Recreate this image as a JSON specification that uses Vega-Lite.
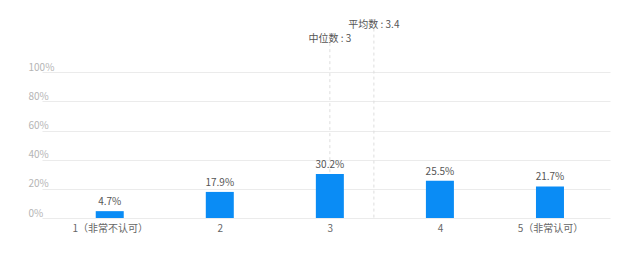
{
  "$schema": "https://vega.github.io/schema/vega-lite/v6.json",
  "autosize": {"type": "none"},
  "padding": {"left": 42, "top": 14, "right": 30, "bottom": 44},
  "width": 568,
  "height": 204,
  "background": "white",
  "config": {
    "view": {"stroke": null},
    "font": "Noto Sans CJK SC"
  },
  "datasets": {
    "bars": [
      {"score": 1, "pct": 0.047, "label": "4.7%"},
      {"score": 2, "pct": 0.179, "label": "17.9%"},
      {"score": 3, "pct": 0.302, "label": "30.2%"},
      {"score": 4, "pct": 0.255, "label": "25.5%"},
      {"score": 5, "pct": 0.217, "label": "21.7%"}
    ],
    "refs": [
      {"name": "中位数 : 3", "score": 3, "top": 1.2, "texty": 1.23},
      {"name": "平均数 : 3.4", "score": 3.4, "top": 1.3, "texty": 1.325}
    ]
  },
  "layer": [
    {
      "data": {"name": "refs"},
      "mark": {"type": "rule", "color": "#dddddd", "strokeDash": [3, 3], "strokeWidth": 1},
      "encoding": {
        "x": {"field": "score", "type": "quantitative"},
        "y": {"field": "top", "type": "quantitative"},
        "y2": {"datum": 0}
      }
    },
    {
      "data": {"name": "bars"},
      "mark": {"type": "bar", "width": 28, "color": "#0a8cf5"},
      "encoding": {
        "x": {
          "field": "score",
          "type": "quantitative",
          "scale": {"domain": [0.43, 5.5], "nice": false, "zero": false},
          "axis": {
            "title": null,
            "values": [1, 2, 3, 4, 5],
            "format": "d",
            "labelExpr": "datum.value == 1 ? '1（非常不认可）' : datum.value == 5 ? '5（非常认可）' : datum.label",
            "grid": false,
            "domain": false,
            "ticks": false,
            "labelPadding": 5,
            "labelFontSize": 10,
            "labelColor": "#666666",
            "labelFont": "Noto Sans CJK SC"
          }
        },
        "y": {
          "field": "pct",
          "type": "quantitative",
          "scale": {"domain": [0, 1.4], "nice": false},
          "axis": {
            "title": null,
            "values": [0, 0.2, 0.4, 0.6, 0.8, 1],
            "format": ".0%",
            "grid": true,
            "gridColor": "#ebebeb",
            "domain": false,
            "ticks": false,
            "labelAlign": "left",
            "labelBaseline": "bottom",
            "labelPadding": 14,
            "labelDy": -1,
            "labelFontSize": 10,
            "labelColor": "#b5b5b5"
          }
        }
      }
    },
    {
      "data": {"name": "bars"},
      "mark": {"type": "text", "dy": -9, "fontSize": 10, "color": "#555555"},
      "encoding": {
        "x": {"field": "score", "type": "quantitative"},
        "y": {"field": "pct", "type": "quantitative"},
        "text": {"field": "label"}
      }
    },
    {
      "data": {"name": "refs"},
      "mark": {"type": "text", "fontSize": 10, "color": "#555555"},
      "encoding": {
        "x": {"field": "score", "type": "quantitative"},
        "y": {"field": "texty", "type": "quantitative"},
        "text": {"field": "name"}
      }
    }
  ]
}
